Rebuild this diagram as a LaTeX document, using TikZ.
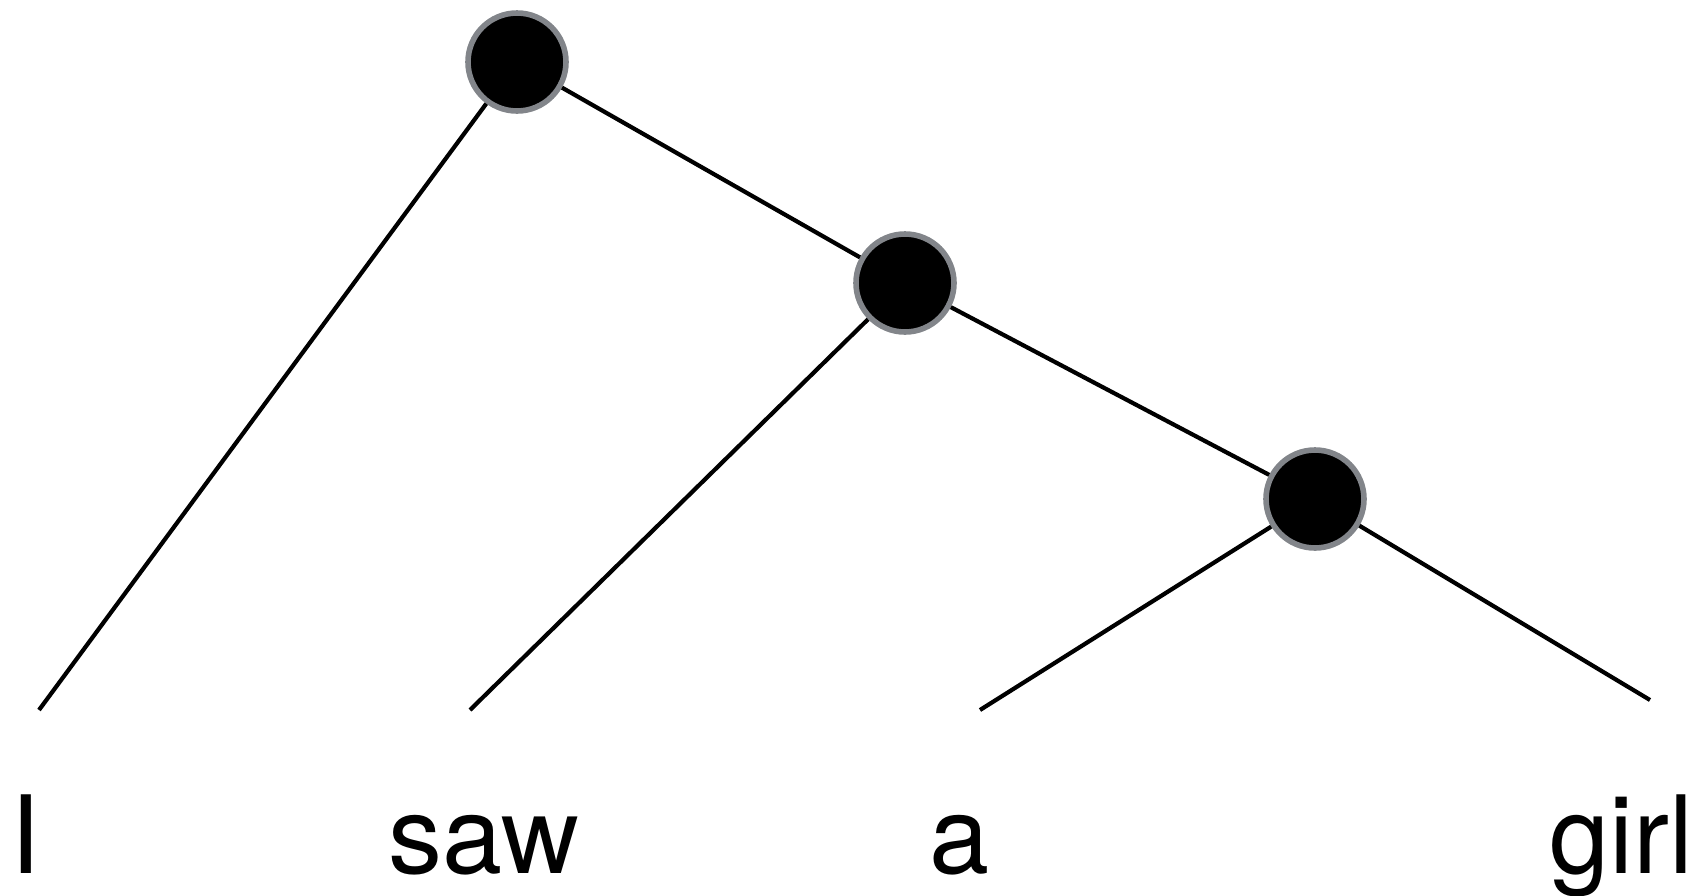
\documentclass[tikz,border=0pt]{standalone}
\usepackage{fontspec}
\setmainfont{TeX Gyre Heros}
\usepackage{xcolor}
\usepackage{tikz}
\definecolor{rimgray}{RGB}{130,133,138}

\begin{document}
\begin{tikzpicture}[x=0.5pt, y=-0.5pt,
  merge/.style={circle, fill=black, draw=rimgray, line width=2.8pt, minimum size=49pt, inner sep=0pt},
  branch/.style={line width=2.1pt, black},
  word/.style={anchor=base, inner sep=0pt, font=\fontsize{54}{60}\selectfont}]
\useasboundingbox (0,0) rectangle (1698,895);
% merge points
\node[merge] (top) at (517,62) {};
\node[merge] (mid) at (905,283) {};
\node[merge] (low) at (1315,499) {};
% leaf ends
\coordinate (eI) at (39,710);
\coordinate (esaw) at (470,710);
\coordinate (ea) at (980,710);
\coordinate (egirl) at (1650,700);
% branches
\draw[branch] (top) -- (eI);
\draw[branch] (top) -- (mid);
\draw[branch] (mid) -- (esaw);
\draw[branch] (mid) -- (low);
\draw[branch] (low) -- (ea);
\draw[branch] (low) -- (egirl);
% words
\node[word] (wI) at (26,873) {I};
\node[word] (wsaw) at (484,873) {saw};
\node[word] (wa) at (960,873) {a};
\node[word] (wgirl) at (1621,873) {girl};
\end{tikzpicture}
\end{document}
